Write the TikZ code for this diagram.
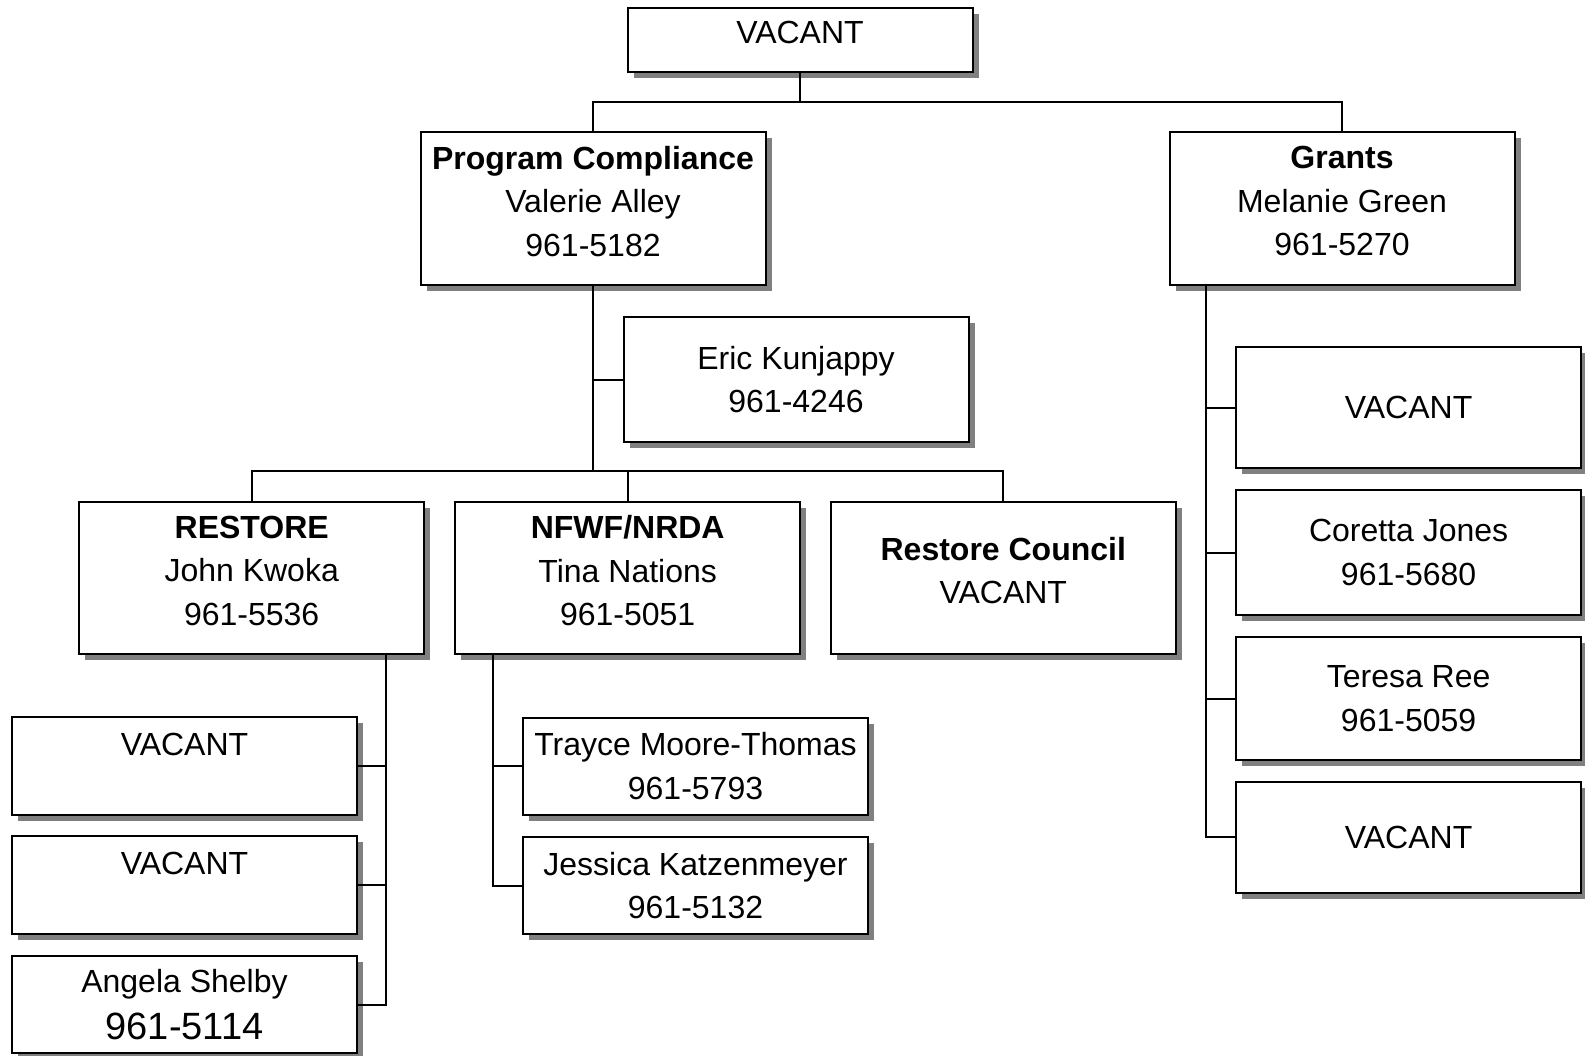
\documentclass[tikz,border=0pt]{standalone}
\usepackage{fontspec}
\setmainfont{Liberation Sans}
\usetikzlibrary{shadows}
\tikzset{
	orgbox/.style={draw, line width=1pt, fill=white, minimum width=172.5pt, align=center, inner sep=0pt,
		font=\fontsize{16}{21.7}\selectfont,
		drop shadow={shadow xshift=3pt, shadow yshift=-3pt, fill=black!50, opacity=1}},
	headbox/.style={orgbox, text depth=7.6pt}, % text sits a bit high in these
	link/.style={line width=1pt},
}
\newcommand{\bignum}[1]{{\fontsize{19}{22}\selectfont #1}}

\begin{document}
\begin{tikzpicture}[x=0.5pt, y=-0.5pt]
	\useasboundingbox (0,0) rectangle (1585,1055);

	% top levels
	\node[headbox, minimum height=32pt] (top) at (800,40) {VACANT};
	\node[headbox, minimum height=76.3pt] (compl) at (593,208.7) {\textbf{Program Compliance}\\Valerie Alley\\961-5182};
	\node[headbox, minimum height=76.3pt] (grants) at (1342,208.7) {\textbf{Grants}\\Melanie Green\\961-5270};
	\node[orgbox, minimum height=62.2pt] (eric) at (796,379.5) {Eric Kunjappy\\961-4246};

	\node[headbox, minimum height=75.8pt] (restore) at (251.7,578.2) {\textbf{RESTORE}\\John Kwoka\\961-5536};
	\node[headbox, minimum height=75.8pt] (nfwf) at (627.7,578.2) {\textbf{NFWF/NRDA}\\Tina Nations\\961-5051};
	\node[headbox, minimum height=75.8pt] (council) at (1003.3,578.2) {\textbf{Restore Council}\\VACANT};

	% RESTORE staff
	\node[orgbox, minimum height=49pt] (rvac1) at (184.5,765.7) {VACANT\\\mbox{}};
	\node[orgbox, minimum height=49pt] (rvac2) at (184.5,885) {VACANT\\\mbox{}};
	\node[orgbox, minimum height=48.6pt] (angela) at (184.5,1004.8) {Angela Shelby\\[2pt]\bignum{961-5114}};

	% NFWF/NRDA staff
	\node[orgbox, minimum height=48.5pt] (trayce) at (695.5,766.2) {Trayce Moore-Thomas\\961-5793};
	\node[orgbox, minimum height=48.5pt] (jessica) at (695.5,885.5) {Jessica Katzenmeyer\\961-5132};

	% Grants staff
	\node[orgbox, minimum height=60.8pt] (gvac1) at (1408.6,407.5) {VACANT};
	\node[orgbox, minimum height=62.7pt] (coretta) at (1408.6,552.5) {Coretta Jones\\961-5680};
	\node[orgbox, minimum height=61.5pt] (teresa) at (1408.6,698.5) {Teresa Ree\\961-5059};
	\node[orgbox, minimum height=55.5pt] (gvac2) at (1408.6,837) {VACANT};

	% connectors
	\coordinate (topbus) at (800,102);
	\coordinate (midbus) at (593,471);
	\coordinate (rspine) at (386,654);
	\coordinate (nspine) at (493.3,654);
	\coordinate (gspine) at (1206,285);

	\draw[link] (top) -- (topbus);
	\draw[link] (compl) |- (topbus) -| (grants);
	\draw[link] (compl) -- (midbus);
	\draw[link] (eric) -- (eric -| midbus);
	\draw[link] (restore) |- (midbus) -| (council);
	\draw[link] (nfwf) -- (nfwf |- midbus);

	\draw[link] (rspine) |- (angela);
	\draw[link] (rvac1) -- (rvac1 -| rspine);
	\draw[link] (rvac2) -- (rvac2 -| rspine);

	\draw[link] (nspine) |- (jessica);
	\draw[link] (trayce) -- (trayce -| nspine);

	\draw[link] (gspine) |- (gvac2);
	\draw[link] (gvac1) -- (gvac1 -| gspine);
	\draw[link] (coretta) -- (coretta -| gspine);
	\draw[link] (teresa) -- (teresa -| gspine);
\end{tikzpicture}
\end{document}
